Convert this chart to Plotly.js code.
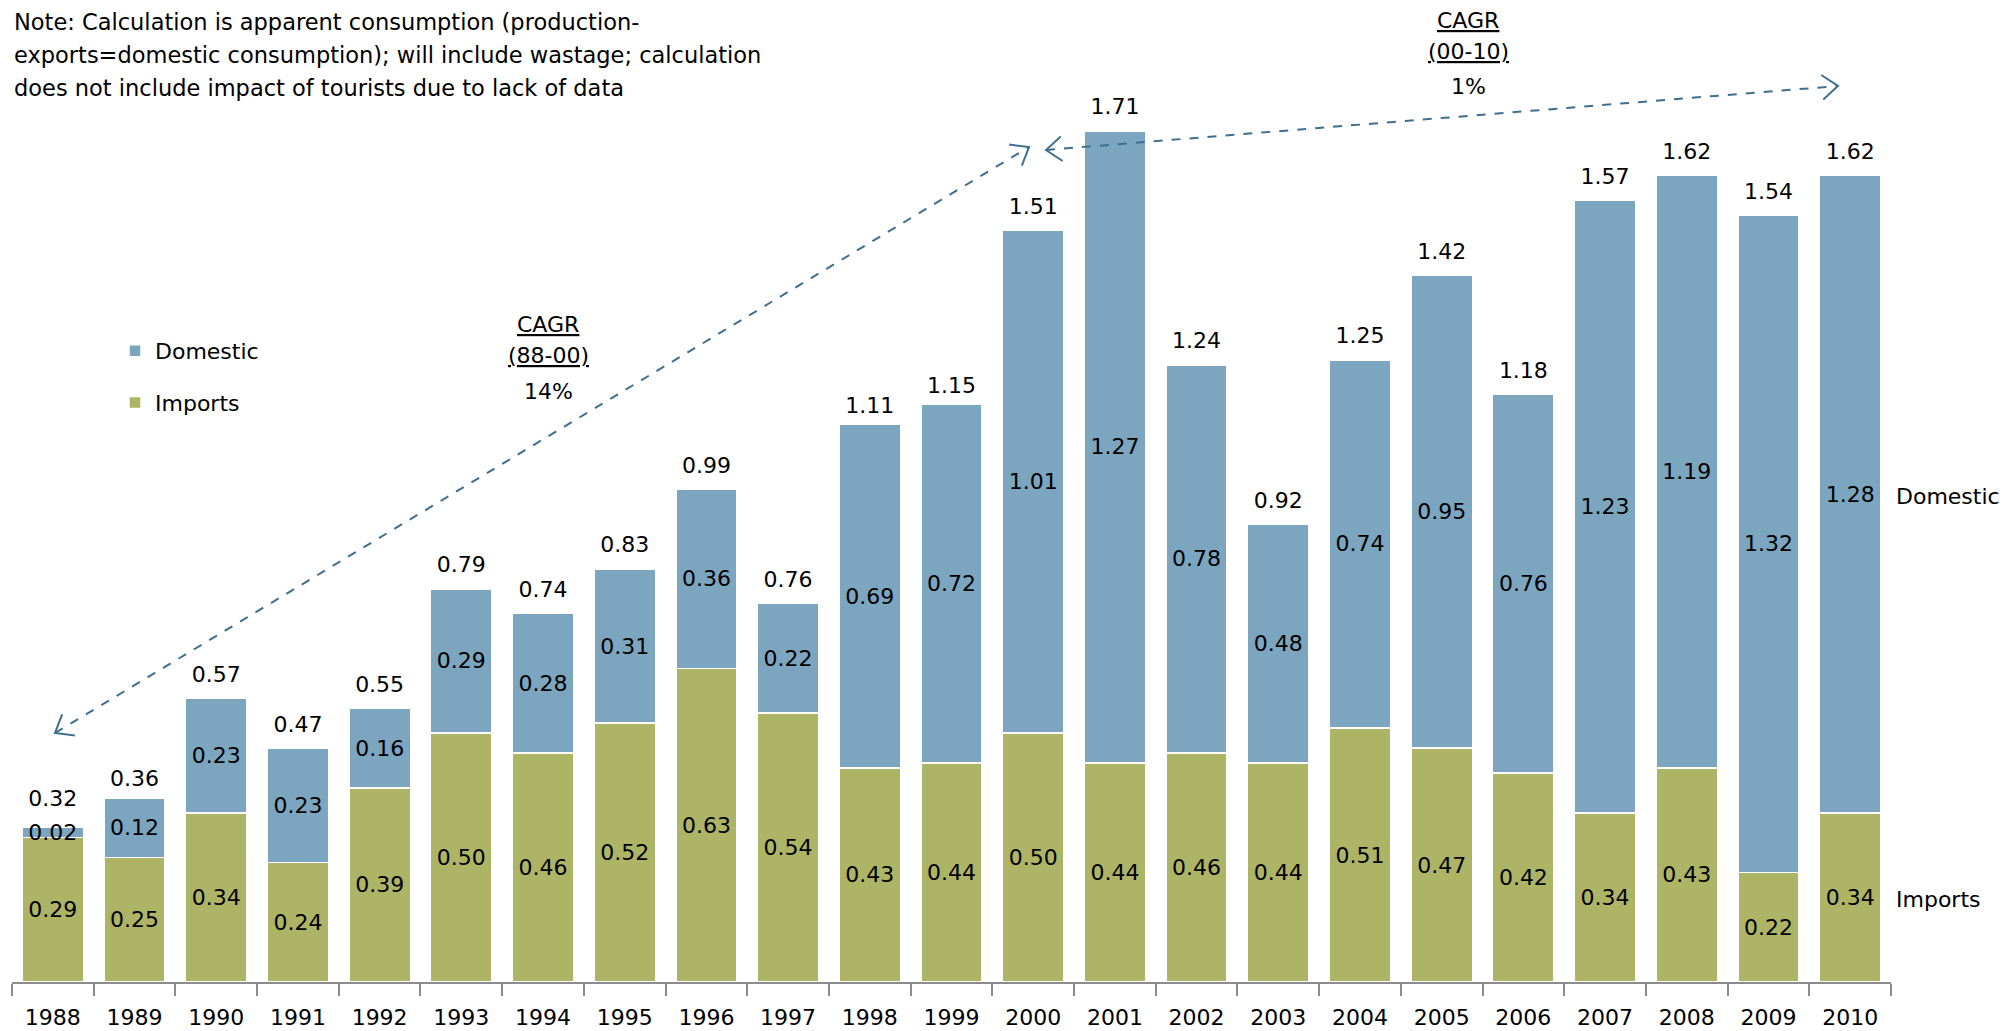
<!DOCTYPE html>
<html>
<head>
<meta charset="utf-8">
<script src="https://cdn.plot.ly/plotly-3.0.1.min.js"></script>
<style>html,body{margin:0;padding:0;background:#fff;}#chart{width:2005px;height:1031px;}</style>
</head>
<body>
<div id="chart"></div>
<script>
const years = ['1988','1989','1990','1991','1992','1993','1994','1995','1996','1997','1998','1999','2000','2001','2002','2003','2004','2005','2006','2007','2008','2009','2010'];
const imports = [0.29,0.25,0.34,0.24,0.39,0.50,0.46,0.52,0.63,0.54,0.43,0.44,0.50,0.44,0.46,0.44,0.51,0.47,0.42,0.34,0.43,0.22,0.34];
const domestic = [0.02,0.12,0.23,0.23,0.16,0.29,0.28,0.31,0.36,0.22,0.69,0.72,1.01,1.27,0.78,0.48,0.74,0.95,0.76,1.23,1.19,1.32,1.28];
const totals = [0.32,0.36,0.57,0.47,0.55,0.79,0.74,0.83,0.99,0.76,1.11,1.15,1.51,1.71,1.24,0.92,1.25,1.42,1.18,1.57,1.62,1.54,1.62];
const noteLines = [
  'Note: Calculation is apparent consumption (production-',
  'exports=domestic consumption); will include wastage; calculation',
  'does not include impact of tourists due to lack of data'
];

const FONT = '"DejaVu Sans", Verdana, sans-serif';
const BLUE = '#7ca5bf';
const GREEN = '#aeb465';
const ARROW = '#3e6f8e';
const FS = 22;

// plot geometry (pixels)
const W = 2005, H = 1031;
const M = {l: 12, r: 114, t: 86, b: 49};
const PW = W - M.l - M.r, PH = H - M.t - M.b;
const px = x => (x - M.l) / PW;
const py = y => (H - M.b - y) / PH;

const traces = [
  {
    type: 'bar', name: 'Imports', x: years, y: imports,
    text: imports.map(v => v.toFixed(2)),
    textposition: 'inside', insidetextanchor: 'middle', textangle: 0, constraintext: 'none',
    insidetextfont: {family: FONT, size: FS, color: '#000'},
    marker: {color: GREEN, line: {color: '#fff', width: 1.5}},
    legendgroup: 'i', legendrank: 2
  },
  {
    type: 'bar', name: 'Domestic', x: years, y: domestic,
    text: domestic.map(v => v.toFixed(2)),
    textposition: 'inside', insidetextanchor: 'middle', textangle: 0, constraintext: 'none',
    insidetextfont: {family: FONT, size: FS, color: '#000'},
    marker: {color: BLUE, line: {color: '#fff', width: 1.5}},
    legendgroup: 'd', legendrank: 1
  },
  {
    type: 'scatter', mode: 'markers+text', x: years, y: totals,
    text: totals.map(v => v.toFixed(2)),
    textposition: 'top center',
    marker: {size: 16, opacity: 0},
    textfont: {family: FONT, size: FS, color: '#000'},
    showlegend: false, cliponaxis: false
  }
];

// dashed double-headed arrows
function arrowShapes(x1, y1, x2, y2) {
  const shapes = [{
    type: 'line', xref: 'paper', yref: 'paper',
    x0: px(x1), y0: py(y1), x1: px(x2), y1: py(y2),
    line: {color: ARROW, width: 2, dash: 'dash'}
  }];
  const L = 20, th = 38 * Math.PI / 180;
  [[x1, y1, x1 - x2, y1 - y2], [x2, y2, x2 - x1, y2 - y1]].forEach(([tx, ty, dx, dy]) => {
    const n = Math.hypot(dx, dy); dx /= n; dy /= n;
    const pts = [th, -th].map(a => {
      const rx = dx * Math.cos(a) - dy * Math.sin(a);
      const ry = dx * Math.sin(a) + dy * Math.cos(a);
      return [tx - L * rx, ty - L * ry];
    });
    shapes.push({
      type: 'path', xref: 'paper', yref: 'paper',
      path: `M${px(pts[0][0])},${py(pts[0][1])}L${px(tx)},${py(ty)}L${px(pts[1][0])},${py(pts[1][1])}`,
      line: {color: ARROW, width: 2}
    });
  });
  return shapes;
}

const shapes = [].concat(
  arrowShapes(55, 733, 1029, 147),
  arrowShapes(1046, 150, 1838, 86)
);

const ann = (x, y, text, opts) => Object.assign({
  xref: 'paper', yref: 'paper', x: px(x), y: py(y), text: text, showarrow: false,
  xanchor: 'center', yanchor: 'middle',
  font: {family: FONT, size: FS, color: '#000'}
}, opts || {});

const annotations = [];
noteLines.forEach((t, i) => annotations.push(
  ann(12, 22 + i * 33, t, {xanchor: 'left', font: {family: FONT, size: 22.5, color: '#000'}})
));
[['<u>CAGR</u>', 324], ['<u>(88-00)</u>', 355], ['14%', 391]].forEach(([t, y]) => annotations.push(ann(548, y, t)));
[['<u>CAGR</u>', 20], ['<u>(00-10)</u>', 51], ['1%', 86]].forEach(([t, y]) => annotations.push(ann(1468, y, t)));
annotations.push(ann(1894, 496, 'Domestic', {xanchor: 'left'}));
annotations.push(ann(1894, 899, 'Imports', {xanchor: 'left'}));

const layout = {
  width: W, height: H,
  margin: M,
  paper_bgcolor: '#fff', plot_bgcolor: '#fff',
  barmode: 'stack', bargap: 0.25,
  font: {family: FONT, size: FS, color: '#000'},
  showlegend: true,
  legend: {
    x: px(115), y: py(330), xanchor: 'left', yanchor: 'top',
    traceorder: 'grouped', tracegroupgap: 20,
    font: {family: FONT, size: FS, color: '#000'},
    bgcolor: 'rgba(0,0,0,0)', itemwidth: 30
  },
  xaxis: {
    type: 'category', range: [-0.5, years.length - 0.5], autorange: false,
    showgrid: false, zeroline: false,
    showline: true, linecolor: '#8c8c8c', linewidth: 2,
    ticks: 'outside', tickson: 'boundaries', ticklen: 12, tickwidth: 2, tickcolor: '#8c8c8c',
    ticklabelstandoff: 15,
    tickfont: {family: FONT, size: FS, color: '#000'}
  },
  yaxis: {range: [0, 1.8], autorange: false, visible: false, showgrid: false, zeroline: false},
  shapes: shapes,
  annotations: annotations
};

Plotly.newPlot('chart', traces, layout, {displayModeBar: false, staticPlot: true});
</script>
</body>
</html>
